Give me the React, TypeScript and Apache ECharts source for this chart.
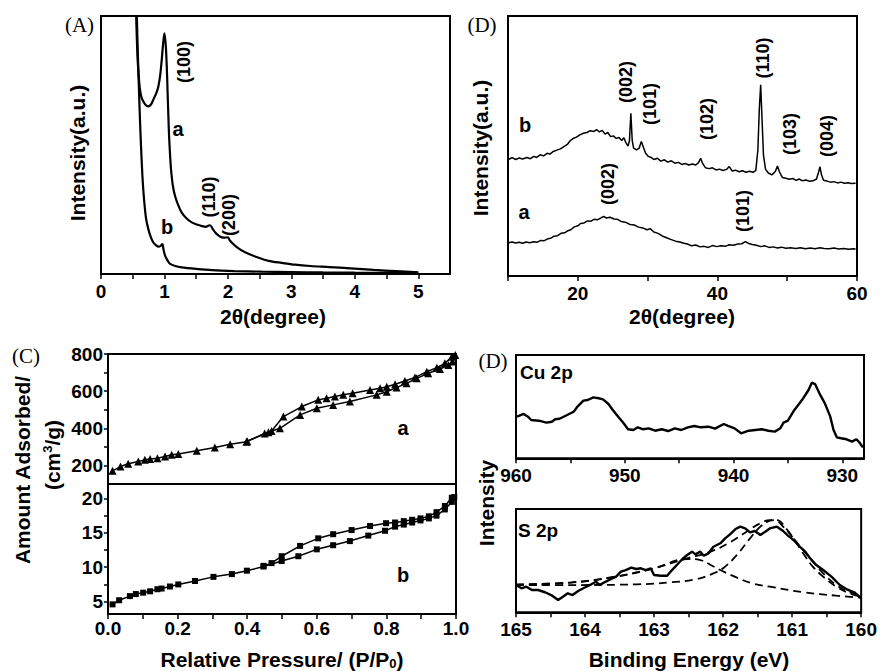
import React, { useEffect, useRef } from 'react';
import * as echarts from 'echarts';

const FONT = "'Liberation Sans', Arial, sans-serif";
const SERIF = "'Liberation Serif', 'Times New Roman', serif";

// ---------- Panel A: low-angle XRD (x = 2θ, y = relative intensity 0..100) ----------
const aXrdA: number[][] = [[0.54,115],[0.56,95],[0.578,83],[0.60,75],[0.615,71.4],[0.64,68.3],[0.667,66.9],[0.70,65.6],[0.746,65],[0.79,65.8],[0.825,67.6],[0.87,70],[0.904,72.7],[0.935,77.5],[0.957,83],[0.98,89.5],[0.999,93.3],[1.012,91],[1.025,86.9],[1.04,78],[1.05,70],[1.062,61],[1.073,53.4],[1.09,45.5],[1.104,40.5],[1.13,34.6],[1.167,30.2],[1.22,26.5],[1.272,23.8],[1.35,21.5],[1.43,20],[1.51,19.2],[1.588,18.6],[1.65,18.3],[1.70,18.8],[1.72,18.9],[1.76,17.5],[1.8,16.1],[1.85,15],[1.904,14.2],[1.95,14.1],[2.0,14.2],[2.03,13],[2.06,12.2],[2.15,10.2],[2.27,8.4],[2.45,6.6],[2.64,5.1],[2.85,4.3],[3.06,3.6],[3.3,3.1],[3.6,2.7],[3.93,2.2],[4.3,1.6],[4.65,1.1],[5.0,0.6]];
const aXrdB: number[][] = [[0.55,115],[0.575,90],[0.6,70],[0.62,56],[0.64,44.4],[0.66,35],[0.683,27.7],[0.71,21.5],[0.746,17.4],[0.785,14.3],[0.825,12.2],[0.865,11.2],[0.904,10.6],[0.94,10.9],[0.967,11.6],[0.985,9.5],[1.01,7.1],[1.05,5.2],[1.09,3.9],[1.17,3.1],[1.27,2.6],[1.5,2.0],[1.75,1.5],[2.1,1.15],[2.53,0.9],[3.0,0.75],[3.5,0.6],[4.0,0.5],[4.5,0.45],[5.0,0.4]];
const aTicks = [0,0.5,1,1.5,2,2.5,3,3.5,4,4.5,5];
const aLabels = [0,1,2,3,4,5];

// ---------- Panel D (top): wide-angle XRD ----------
const dXrdB: number[][] = [[10.1,44.9],[10.6,45.5],[11.1,44.8],[11.6,45.4],[12.1,45.0],[12.7,45.6],[13.2,45.1],[13.7,46.0],[14.1,45.6],[14.6,46.6],[15.1,46.2],[15.6,47.2],[16.0,46.9],[16.5,47.9],[17.0,48.4],[17.5,48.9],[18.0,49.8],[18.5,50.6],[18.9,52.0],[19.4,53.0],[19.8,53.4],[20.3,54.3],[20.8,54.9],[21.3,55.2],[21.8,55.9],[22.3,55.6],[22.7,56.3],[23.1,55.4],[23.5,56.0],[23.9,54.6],[24.3,55.2],[24.7,53.6],[25.1,53.9],[25.5,52.9],[25.9,53.3],[26.3,52.1],[26.6,53.2],[26.9,51.2],[27.2,50.0],[27.4,52.0],[27.6,62.6],[27.8,52.0],[28.0,49.2],[28.4,48.5],[28.8,49.2],[29.1,51.7],[29.4,49.5],[29.7,47.3],[30.1,46.0],[30.5,45.6],[30.9,44.8],[31.4,45.3],[31.9,44.2],[32.4,44.7],[32.9,43.8],[33.4,44.3],[33.9,43.4],[34.4,43.7],[34.9,42.9],[35.4,43.3],[35.9,42.7],[36.4,43.1],[36.9,42.7],[37.3,43.6],[37.6,45.3],[37.9,43.2],[38.3,41.6],[38.8,41.3],[39.3,41.6],[39.8,40.8],[40.3,41.1],[40.8,40.6],[41.3,41.0],[41.7,42.1],[42.1,40.4],[42.6,40.7],[43.1,40.1],[43.6,40.5],[44.1,39.9],[44.6,40.3],[45.1,39.9],[45.5,40.5],[45.8,48.5],[46.0,64],[46.2,73.5],[46.4,60],[46.6,46.5],[46.9,41.0],[47.3,39.6],[47.8,38.9],[48.3,40.2],[48.6,42.3],[48.9,40.0],[49.3,37.9],[49.8,37.6],[50.3,37.2],[50.8,37.5],[51.3,36.8],[51.7,37.3],[52.2,36.6],[52.7,36.9],[53.2,36.4],[53.7,36.6],[54.2,37.3],[54.5,40.0],[54.7,42.0],[54.9,39.0],[55.2,36.8],[55.7,36.5],[56.2,36.1],[56.7,36.3],[57.2,35.8],[57.7,36.1],[58.2,35.7],[58.7,35.9],[59.2,35.6],[59.8,35.7]];
const dXrdA: number[][] = [[10.1,12.8],[10.6,13.1],[11.1,12.7],[11.6,13.0],[12.1,12.6],[12.6,13.1],[13.1,12.8],[13.7,13.2],[14.2,13.0],[14.7,13.7],[15.2,13.6],[15.7,14.3],[16.1,14.5],[16.6,15.3],[17.1,15.5],[17.6,16.4],[18.1,16.6],[18.5,17.3],[19.0,17.8],[19.5,18.9],[20.0,19.3],[20.4,20.2],[20.9,20.4],[21.4,21.2],[21.9,21.1],[22.3,21.8],[22.8,21.6],[23.3,22.3],[23.7,22.9],[24.1,22.3],[24.6,22.6],[25.2,21.9],[25.7,21.8],[26.2,21.0],[26.8,20.7],[27.5,19.8],[28.1,19.6],[28.7,18.8],[29.3,18.5],[29.9,17.8],[30.4,18.2],[30.9,16.9],[31.5,16.4],[32.1,15.4],[32.8,14.6],[33.4,14.0],[34.0,13.4],[34.6,13.1],[35.2,12.6],[35.7,12.3],[36.3,11.6],[36.9,11.9],[37.5,11.2],[38.1,11.4],[38.7,11.0],[39.3,11.7],[39.9,11.3],[40.5,11.6],[41.1,11.4],[41.7,12.0],[42.3,11.8],[42.9,12.3],[43.5,12.4],[44.0,13.2],[44.5,12.5],[45.0,12.1],[45.6,11.8],[46.2,11.3],[46.8,11.6],[47.4,11.0],[48.0,11.2],[48.6,10.8],[49.2,11.1],[49.8,10.7],[50.5,10.9],[51.2,10.6],[51.9,10.9],[52.6,10.5],[53.3,10.8],[54.0,10.5],[54.7,10.9],[55.3,10.6],[56.0,10.5],[56.7,10.8],[57.4,10.4],[58.1,10.6],[58.8,10.3],[59.5,10.5],[59.8,10.3]];
const dTicks = [10,20,30,40,50,60];
const dLabels = [20,40,60];

// ---------- Panel C: N2 isotherms ----------
const cAdsA: number[][] = [[0.013,171],[0.036,194],[0.058,209],[0.087,221],[0.106,230],[0.121,234],[0.142,239],[0.164,248],[0.183,257],[0.202,262],[0.255,279],[0.307,296],[0.351,314],[0.398,328],[0.461,379],[0.494,400],[0.552,472],[0.6,508],[0.647,526],[0.695,544],[0.772,580],[0.801,597],[0.829,619],[0.858,642],[0.887,669],[0.92,696],[0.954,719],[0.978,741],[0.99,760]];
const cDesA: number[][] = [[0.998,795],[0.988,785],[0.968,750],[0.945,726],[0.916,705],[0.882,673],[0.853,655],[0.825,637],[0.801,624],[0.782,615],[0.753,606],[0.703,589],[0.676,580],[0.652,571],[0.628,562],[0.604,553],[0.557,517],[0.504,463],[0.47,385],[0.45,372],[0.40,330]];
const cAdsB: number[][] = [[0.013,4.6],[0.032,5.2],[0.063,5.8],[0.08,6.1],[0.101,6.3],[0.121,6.5],[0.142,6.8],[0.154,6.9],[0.178,7.2],[0.202,7.5],[0.25,8.0],[0.303,8.6],[0.356,9.0],[0.399,9.5],[0.447,10.1],[0.499,10.9],[0.547,11.6],[0.6,12.6],[0.647,13.2],[0.695,13.8],[0.748,14.6],[0.796,15.3],[0.825,15.9],[0.85,16.2],[0.874,16.5],[0.898,16.8],[0.922,17.1],[0.944,17.5],[0.968,18.4],[0.988,19.5]];
const cDesB: number[][] = [[0.995,20.2],[0.988,20.1],[0.968,18.9],[0.944,18.0],[0.922,17.4],[0.898,17.1],[0.874,16.9],[0.85,16.7],[0.825,16.5],[0.799,16.4],[0.753,16.0],[0.7,15.4],[0.647,14.8],[0.604,14.2],[0.552,13.1],[0.499,11.6],[0.47,10.6],[0.447,10.2]];
const cXTicks = [0,0.1,0.2,0.3,0.4,0.5,0.6,0.7,0.8,0.9,1.0];
const cXLabels = [0,0.2,0.4,0.6,0.8,1.0];
const cTopTicks = [200,300,400,500,600,700,800];
const cTopLabels = [200,400,600,800];
const cBotTicks = [5,7.5,10,12.5,15,17.5,20];
const cBotLabels = [5,10,15,20];

// ---------- Panel D (bottom): XPS ----------
const cu2p: number[][] = [[959.9,40.3],[959.3,42.9],[958.9,40.3],[958.6,37.1],[957.9,36.4],[957.2,34.5],[956.7,35.4],[956.4,37.8],[956.0,38.3],[955.3,41.9],[954.7,45.1],[954.3,50.6],[953.8,55.8],[953.4,56.4],[952.9,59],[952.4,58.1],[952.0,57.1],[951.5,52.6],[951.1,46.8],[950.6,40.3],[950.1,33.9],[949.7,28.1],[949.2,27.4],[948.8,30],[948.3,28.1],[947.8,29],[947.2,26.7],[946.6,28.1],[946.0,26.4],[945.4,29],[944.8,27.4],[944.2,30],[943.6,31.3],[943.0,30],[942.3,30.6],[941.7,28.7],[940.9,33.2],[940.5,31.3],[939.9,29],[939.3,24.2],[938.6,26.7],[938.0,27.4],[937.4,28.1],[936.8,26.7],[936.2,25.8],[935.7,29],[935.4,34.5],[935.0,36.4],[934.4,46.8],[933.7,56.4],[933.1,66.1],[932.8,73.2],[932.5,71.9],[932.1,62.9],[931.6,53.2],[931.1,40.3],[930.8,27.4],[930.5,20.3],[930.1,19.4],[929.6,18.4],[929.1,16.1],[928.7,18.4],[928.4,15.1],[928.1,10.6]];
const cuTicks = [930,935,940,945,950,955,960];
const cuLabels = [930,940,950,960];

const s2p: number[][] = [[165.0,26.4],[164.92,23.2],[164.85,24.8],[164.77,21.6],[164.68,21.6],[164.58,19.4],[164.49,16.7],[164.39,11.9],[164.32,15.1],[164.25,18.4],[164.18,16.7],[164.10,20.6],[164.01,23.8],[163.91,27.1],[163.84,29.6],[163.79,26.4],[163.72,29],[163.62,32.2],[163.55,34.5],[163.48,39.3],[163.41,40.9],[163.33,43.2],[163.26,41.9],[163.19,42.6],[163.12,40.9],[163.05,42.6],[163.0,36.1],[162.90,35.4],[162.81,35.4],[162.74,40.9],[162.66,46.5],[162.59,51.6],[162.52,55.5],[162.45,58.7],[162.40,56.1],[162.33,58.7],[162.28,54.8],[162.21,57.1],[162.14,63.5],[162.04,66.8],[161.97,71.6],[161.90,75.5],[161.82,80.6],[161.75,82.9],[161.68,81.3],[161.61,77.4],[161.54,78.7],[161.46,74.8],[161.39,78.0],[161.32,81.3],[161.22,82.9],[161.13,78.7],[161.06,74.2],[160.98,70],[160.89,63.5],[160.81,58.7],[160.74,52.3],[160.65,45.8],[160.55,40.9],[160.43,34.5],[160.31,26.4],[160.19,21.6],[160.10,19.4],[160.0,13.6]];
const s2pComp1: number[][] = [[165.0,26.4],[164.2,26.4],[163.24,27.1],[162.76,29.0],[162.38,32.2],[162.14,37.7],[161.99,43.2],[161.80,55.5],[161.61,71.6],[161.46,82.9],[161.32,88.7],[161.25,89.3],[161.13,82.9],[160.98,71.6],[160.84,57.1],[160.70,44.2],[160.55,34.5],[160.36,24.8],[160.17,18.4],[160.0,15.1]];
const s2pComp2: number[][] = [[165.0,26.4],[164.2,28.7],[163.57,34.2],[163.0,42.6],[162.52,51.6],[162.33,50.6],[162.18,45.8],[162.04,40.9],[161.80,33.5],[161.56,27.7],[161.32,24.8],[160.84,19.4],[160.36,16.1],[160.0,14.2]];
const s2pEnv: number[][] = [[165.0,27.1],[164.2,29.0],[163.57,34.5],[163.0,42.6],[162.52,52.3],[162.18,58.7],[161.90,67.7],[161.66,78.0],[161.46,86.2],[161.32,89.3],[161.22,89.3],[161.08,80.5],[160.94,68.4],[160.74,52.3],[160.55,37.7],[160.36,26.4],[160.17,19.4],[160.0,16.1]];
const sTicks = [160,160.5,161,161.5,162,162.5,163,163.5,164,164.5,165];
const sLabels = [160,161,162,163,164,165];

// ---------- helpers ----------
const lbl = (margin: number, fmt?: (v: number) => string) => ({
  margin, color: '#000', fontSize: 19, fontWeight: 'bold', fontFamily: FONT,
  formatter: fmt || ((v: number) => String(v)),
});
const line2 = { show: true, onZero: false, lineStyle: { color: '#000', width: 2 } };

function xAxis(grid: number, min: number, max: number, ticks: number[], labels: number[], margin: number, extra: any = {}, fmt?: (v: number) => string) {
  return {
    type: 'value', gridIndex: grid, min, max, ...extra,
    axisLine: line2,
    axisTick: ticks.length ? { show: true, customValues: ticks, length: 5, lineStyle: { color: '#000', width: 1.5 } } : { show: false },
    axisLabel: labels.length ? { show: true, customValues: labels, ...lbl(margin, fmt) } : { show: false },
    splitLine: { show: false },
  };
}
function yAxis(grid: number, min: number, max: number, ticks: number[] = [], labels: number[] = []) {
  return {
    type: 'value', gridIndex: grid, min, max,
    axisLine: line2,
    axisTick: ticks.length ? { show: true, customValues: ticks, length: 4, lineStyle: { color: '#000', width: 1.5 } } : { show: false },
    axisLabel: labels.length ? { show: true, customValues: labels, ...lbl(5) } : { show: false },
    splitLine: { show: false },
  };
}
const gridBox = (left: number, top: number, width: number, height: number) => ({
  left, top, width, height, show: true, borderColor: '#000', borderWidth: 2, backgroundColor: 'transparent',
});
function curve(data: number[][], xi: number, yi: number, width: number, extra: any = {}) {
  return {
    type: 'line', data, xAxisIndex: xi, yAxisIndex: yi, showSymbol: false, symbol: 'none',
    lineStyle: { color: '#000', width }, itemStyle: { color: '#000' }, silent: true, ...extra,
  };
}
function txt(x: number, y: number, text: string, size: number, opts: any = {}) {
  return {
    type: 'text', x, y, rotation: opts.rot ? Math.PI / 2 : 0, silent: true,
    style: {
      text, fill: '#000', fontSize: size, fontWeight: opts.serif ? 'normal' : 'bold',
      fontFamily: opts.serif ? SERIF : FONT,
      align: opts.align || 'center', verticalAlign: 'middle', rich: opts.rich,
    },
  };
}

export default function App() {
  const ref = useRef<HTMLDivElement>(null);
  useEffect(() => {
    const chart = echarts.init(ref.current as HTMLDivElement, null, { renderer: 'svg', width: 880, height: 671 });
    const option: any = {
      animation: false,
      backgroundColor: '#fff',
      grid: [
        gridBox(101, 16, 349, 258),   // 0: A
        gridBox(508, 16, 349, 260),   // 1: D XRD
        gridBox(108, 354, 348, 130),  // 2: C top
        gridBox(108, 484, 348, 130),  // 3: C bottom
        gridBox(516, 355, 348, 103.3),// 4: Cu 2p
        gridBox(516, 509, 348, 103.3),// 5: S 2p
      ],
      xAxis: [
        xAxis(0, 0, 5.5, aTicks, aLabels, 8),
        xAxis(1, 10, 60, dTicks, dLabels, 8),
        xAxis(2, 0, 1, [], [], 5),
        xAxis(3, 0, 1, cXTicks, cXLabels, 5, {}, (v: number) => v.toFixed(1)),
        xAxis(4, 928, 960, cuTicks, cuLabels, 8, { inverse: true }),
        xAxis(5, 160, 165, sTicks, sLabels, 8, { inverse: true }),
      ],
      yAxis: [
        yAxis(0, 0, 100),
        yAxis(1, 0, 100),
        yAxis(2, 100, 800, cTopTicks, cTopLabels),
        yAxis(3, 3.2, 22.1, cBotTicks, cBotLabels),
        yAxis(4, 0, 100),
        yAxis(5, 0, 100),
      ],
      series: [
        curve(aXrdA, 0, 0, 2.2, { smooth: 0.3 }),
        curve(aXrdB, 0, 0, 2.2, { smooth: 0.3 }),
        curve(dXrdB, 1, 1, 1.5),
        curve(dXrdA, 1, 1, 1.5),
        curve(cAdsA, 2, 2, 1.5, { showSymbol: true, symbol: 'triangle', symbolSize: 8 }),
        curve(cDesA, 2, 2, 1.5, { showSymbol: true, symbol: 'triangle', symbolSize: 8 }),
        curve(cAdsB, 3, 3, 1.5, { showSymbol: true, symbol: 'rect', symbolSize: 6 }),
        curve(cDesB, 3, 3, 1.5, { showSymbol: true, symbol: 'rect', symbolSize: 6 }),
        curve(cu2p, 4, 4, 2.4),
        curve(s2p, 5, 5, 2.4),
        curve(s2pComp1, 5, 5, 1.8, { smooth: 0.4, lineStyle: { color: '#000', width: 1.8, type: [8, 5] } }),
        curve(s2pComp2, 5, 5, 1.8, { smooth: 0.4, lineStyle: { color: '#000', width: 1.8, type: [8, 5] } }),
        curve(s2pEnv, 5, 5, 1.8, { smooth: 0.4, lineStyle: { color: '#000', width: 1.8, type: [8, 5] } }),
      ],
      graphic: [
        // panel letters
        txt(79.5, 25, '(A)', 21, { serif: true }),
        txt(482, 25, '(D)', 21, { serif: true }),
        txt(26, 356, '(C)', 21, { serif: true }),
        txt(493, 361, '(D)', 21, { serif: true }),
        // panel A
        txt(77, 153, 'Intensity(a.u.)', 21, { rot: true }),
        txt(273, 316, '2θ(degree)', 21),
        txt(184, 62, '(100)', 18, { rot: true }),
        txt(178, 129, 'a', 20),
        txt(209, 197, '(110)', 18, { rot: true }),
        txt(229, 215, '(200)', 18, { rot: true }),
        txt(167, 227, 'b', 20),
        // panel D XRD
        txt(480, 148, 'Intensity(a.u.)', 21, { rot: true }),
        txt(682, 316, '2θ(degree)', 21),
        txt(525, 125, 'b', 20),
        txt(524, 212, 'a', 20),
        txt(626, 82, '(002)', 18, { rot: true }),
        txt(650, 104, '(101)', 18, { rot: true }),
        txt(707, 119, '(102)', 18, { rot: true }),
        txt(763, 58, '(110)', 18, { rot: true }),
        txt(790, 134, '(103)', 18, { rot: true }),
        txt(827, 136, '(004)', 18, { rot: true }),
        txt(608, 184, '(002)', 18, { rot: true }),
        txt(743, 211, '(101)', 18, { rot: true }),
        // panel C
        txt(22.5, 470, 'Amount Adsorbed/', 21, { rot: true }),
        txt(52, 455, '(cm{sup|3}/g)', 21, { rot: true, rich: { sup: { fontSize: 13, fontWeight: 'bold', fontFamily: FONT, verticalAlign: 'top', lineHeight: 22 } } }),
        txt(282, 659, 'Relative Pressure/ (P/P{sub|0})', 21, { rich: { sub: { fontSize: 13, fontWeight: 'bold', fontFamily: FONT, verticalAlign: 'bottom', lineHeight: 22 } } }),
        txt(403, 428, 'a', 20),
        txt(403, 575, 'b', 20),
        // panel D XPS
        txt(486, 503, 'Intensity', 21, { rot: true }),
        txt(689, 659, 'Binding Energy (eV)', 21),
        txt(520, 372, 'Cu 2p', 19, { align: 'left' }),
        txt(518, 530, 'S 2p', 19, { align: 'left' }),
      ],
    };
    chart.setOption(option);
    return () => chart.dispose();
  }, []);
  return <div ref={ref} style={{ position: 'fixed', left: 0, top: 0, width: 880, height: 671, background: '#fff' }} />;
}
